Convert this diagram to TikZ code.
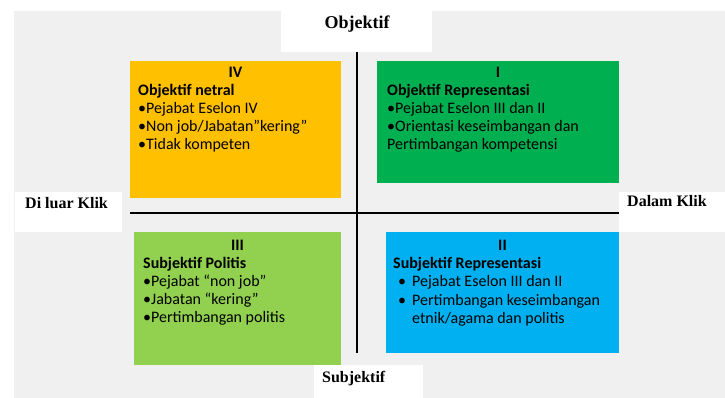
\documentclass[tikz,border=0pt]{standalone}
\usepackage{fontspec}
\newfontfamily\boxfont{Carlito}
\newfontfamily\labfont{Liberation Serif}
\definecolor{bggray}{HTML}{F0F0F0}
\definecolor{qyellow}{HTML}{FFC000}
\definecolor{qgreen}{HTML}{00B050}
\definecolor{qlgreen}{HTML}{92D050}
\definecolor{qblue}{HTML}{00B0F0}
\tikzset{
  quad/.style={draw=none, rectangle, inner sep=0pt, anchor=north west},
  labbox/.style={draw=none, fill=white, rectangle, inner sep=0pt, anchor=north west},
  labtxt/.style={inner sep=0pt, anchor=base west, font=\labfont\bfseries\fontsize{16}{18}\selectfont},
  txt/.style={inner sep=0pt, anchor=base west, font=\boxfont\fontsize{16}{18}\selectfont},
  btxt/.style={txt, font=\boxfont\bfseries\fontsize{16}{18}\selectfont},
  numtxt/.style={btxt, anchor=base},
  axis/.style={draw=black, line width=1.5pt}
}
\begin{document}
\begin{tikzpicture}[x=1pt,y=-1pt]
\useasboundingbox (0,0) rectangle (725,398);
\fill[white] (0,0) rectangle (725,398);
\fill[bggray] (14,11) rectangle (725,398);
% label boxes
\node[labbox, minimum width=151pt, minimum height=41pt] (objbox) at (281,11) {};
\node[labbox, minimum width=107pt, minimum height=40pt] (luarbox) at (15,192) {};
\node[labbox, minimum width=106pt, minimum height=40pt] (dalambox) at (619,192) {};
\node[labbox, minimum width=109pt, minimum height=33pt] (subbox) at (314,365) {};
\node[labtxt, anchor=base, font=\labfont\bfseries\fontsize{18}{20}\selectfont] (objt) at (357,29) {Objektif};
\node[labtxt] (luart) at (25,208) {Di luar Klik};
\node[labtxt] (dalamt) at (627,207) {Dalam Klik};
\node[labtxt] (subt) at (322,382) {Subjektif};
% axes
\coordinate (vtop) at (357,52);
\coordinate (vbot) at (357,353);
\coordinate (hl) at (130,213);
\coordinate (hr) at (619,213);
% quadrants
\node[quad, fill=qyellow, minimum width=211pt, minimum height=137pt] (q4) at (130,61) {};
\node[quad, fill=qgreen, minimum width=242pt, minimum height=122pt] (q1) at (377,61) {};
\node[quad, fill=qlgreen, minimum width=207pt, minimum height=133pt] (q3) at (134,232) {};
\node[quad, fill=qblue, minimum width=233pt, minimum height=121pt] (q2) at (386,232) {};
\draw[axis] (vtop) -- (vbot);
\draw[axis] (hl) -- (hr);
% quadrant IV
\node[numtxt] (n4) at (235.5,78) {IV};
\node[btxt] (t4a) at (138,96) {Objektif netral};
\node[txt] (t4b) at (138,114) {•Pejabat Eselon IV};
\node[txt] (t4c) at (138,132) {•Non job/Jabatan”kering”};
\node[txt] (t4d) at (138,150) {•Tidak kompeten};
% quadrant I
\node[numtxt] (n1) at (498,78) {I};
\node[btxt] (t1a) at (387,96) {Objektif Representasi};
\node[txt] (t1b) at (387,114) {•Pejabat Eselon III dan II};
\node[txt] (t1c) at (387,132) {•Orientasi keseimbangan dan};
\node[txt] (t1d) at (387,150) {Pertimbangan kompetensi};
% quadrant III
\node[numtxt] (n3) at (237.5,250) {III};
\node[btxt] (t3a) at (143,268) {Subjektif Politis};
\node[txt] (t3b) at (143,286) {•Pejabat “non job”};
\node[txt] (t3c) at (143,304) {•Jabatan “kering”};
\node[txt] (t3d) at (143,322) {•Pertimbangan politis};
% quadrant II
\node[numtxt] (n2) at (502.5,250) {II};
\node[btxt] (t2a) at (393,268) {Subjektif Representasi};
\node[txt] (b2a) at (398,286) {•};
\node[txt] (t2b) at (412,286) {Pejabat Eselon III dan II};
\node[txt] (b2b) at (398,305) {•};
\node[txt] (t2c) at (412,305) {Pertimbangan keseimbangan};
\node[txt] (t2d) at (412,323) {etnik/agama dan politis};
\end{tikzpicture}
\end{document}
